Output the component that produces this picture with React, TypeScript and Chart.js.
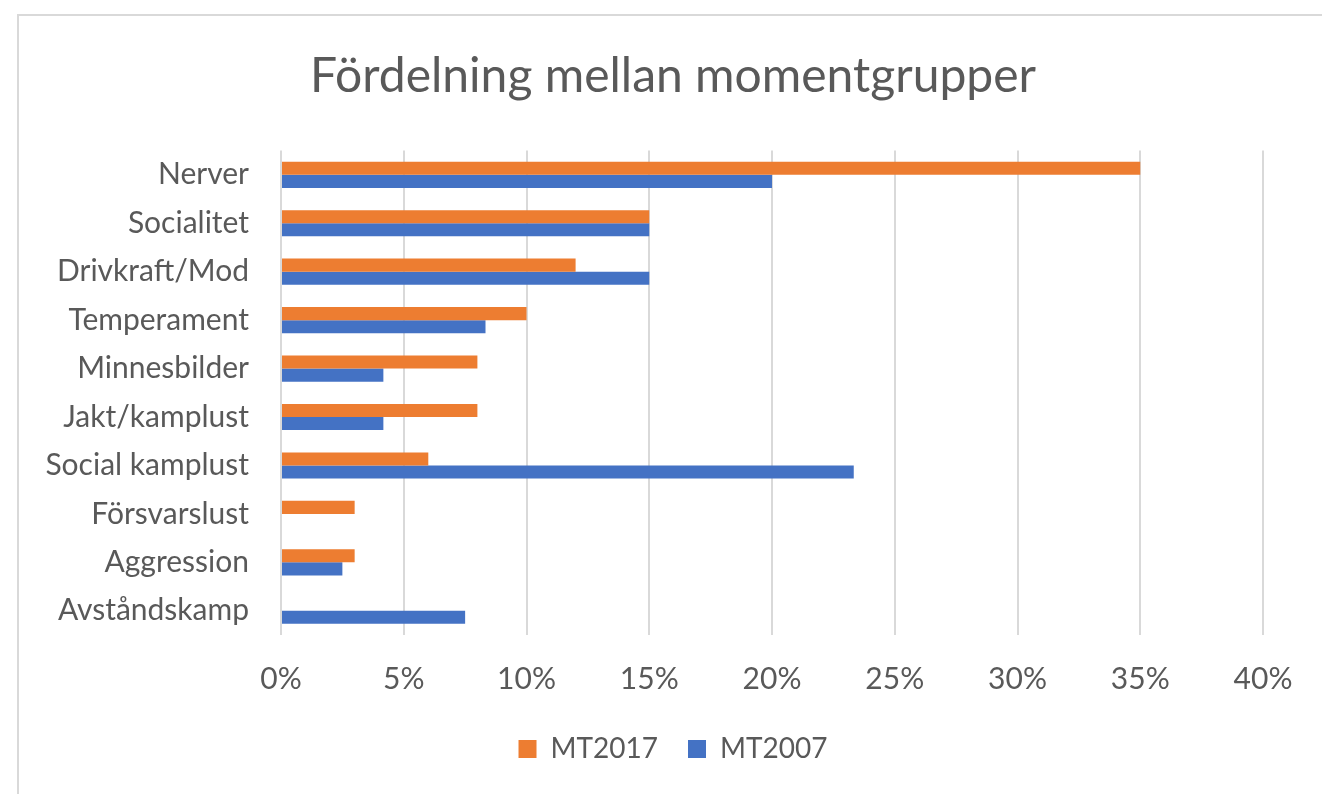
import React, { useEffect, useRef } from "react";
import { Chart, registerables } from "chart.js";

Chart.register(...registerables);

const categories = [
  "Nerver",
  "Socialitet",
  "Drivkraft/Mod",
  "Temperament",
  "Minnesbilder",
  "Jakt/kamplust",
  "Social kamplust",
  "Försvarslust",
  "Aggression",
  "Avståndskamp",
];
const mt2017 = [35, 15, 12, 10, 8, 8, 6, 3, 3, 0];
const mt2007 = [20, 15, 15, 8.33, 4.17, 4.17, 23.33, 0, 2.5, 7.5];
const seriesNames = ["MT2017", "MT2007"];
const titleText = "Fördelning mellan momentgrupper";

const W = 1322;
const H = 794;
const FONT = "Lato";
const TEXT = "#595959";
const GRID = "#d9d9d9";
const PAD_LEFT = 24;

export default function App() {
  const ref = useRef<HTMLCanvasElement | null>(null);

  useEffect(() => {
    document.body.style.margin = "0";
    document.body.style.overflow = "hidden";
    const canvas = ref.current;
    if (!canvas) return;
    const chart = new Chart(canvas, {
      type: "bar",
      data: {
        labels: categories,
        datasets: [
          {
            label: seriesNames[0],
            data: mt2017,
            backgroundColor: "#ED7D31",
            categoryPercentage: 0.54,
            barPercentage: 1,
          },
          {
            label: seriesNames[1],
            data: mt2007,
            backgroundColor: "#4472C4",
            categoryPercentage: 0.54,
            barPercentage: 1,
          },
        ],
      },
      options: {
        indexAxis: "y",
        responsive: false,
        animation: false,
        layout: { padding: { left: PAD_LEFT, right: 0, top: 0, bottom: 21 } },
        scales: {
          x: {
            min: 0,
            max: 40,
            ticks: {
              stepSize: 5,
              callback: (v: any) => v + "%",
              color: TEXT,
              font: { family: FONT, size: 30 },
              padding: 26,
              maxRotation: 0,
            },
            grid: { color: GRID, lineWidth: 2, drawTicks: false },
            border: { display: false },
            afterFit: (s: any) => {
              s.height = 70;
            },
          },
          y: {
            ticks: {
              color: TEXT,
              font: { family: FONT, size: 30 },
              padding: 32,
            },
            grid: { display: false, drawTicks: false },
            border: { display: false },
            afterFit: (s: any) => {
              s.width = 281 - PAD_LEFT;
            },
          },
          spacer: {
            type: "linear",
            position: "right",
            display: true,
            ticks: { display: false },
            grid: { display: false, drawTicks: false },
            border: { display: false },
            afterFit: (s: any) => {
              s.width = 59;
            },
          },
        },
        plugins: {
          title: {
            display: true,
            text: titleText,
            color: TEXT,
            font: { family: FONT, size: 48, weight: "normal" },
            padding: { top: 48, bottom: 45 },
          },
          legend: {
            position: "bottom",
            labels: {
              color: TEXT,
              font: { family: FONT, size: 28 },
              boxWidth: 18,
              boxHeight: 18,
              padding: 30,
            },
          },
          tooltip: { enabled: false },
        },
      },
    });
    return () => chart.destroy();
  }, []);

  return (
    <div style={{ position: "fixed", left: 0, top: 0, width: W, height: H, overflow: "hidden", background: "#fff" }}>
      <div
        style={{
          position: "absolute",
          left: 17,
          top: 14,
          width: 2000,
          height: 2000,
          border: "2px solid #d9d9d9",
        }}
      />
      <canvas ref={ref} width={W} height={H} style={{ position: "absolute", left: 0, top: 0 }} />
    </div>
  );
}
